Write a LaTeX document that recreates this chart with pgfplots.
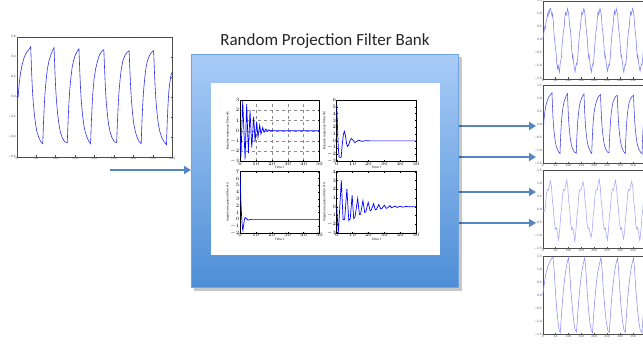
\documentclass[border=0pt]{standalone}
\usepackage{fontspec}
\setmainfont{Carlito}
\newfontfamily\mpl{DejaVu Sans}
\usepackage{pgfplots}
\pgfplotsset{compat=1.18}
\usetikzlibrary{arrows.meta}
\definecolor{arrowblue}{RGB}{84,134,196}
\definecolor{boxtop}{RGB}{168,204,247}
\definecolor{boxbot}{RGB}{78,142,214}
\definecolor{sigA}{RGB}{50,50,235}
\definecolor{out1}{RGB}{125,125,250}
\definecolor{out2}{RGB}{60,60,238}
\definecolor{out3}{RGB}{165,165,252}
\definecolor{out4}{RGB}{140,140,250}
\pgfplotsset{
  mpl/.style={scale only axis, axis line style={line width=0.3pt, black!70},
    tick align=inside, major tick length=1.4pt, tick style={line width=0.25pt, black!70},
    tick label style={font=\mpl\fontsize{3}{3}\selectfont, text=black!70, inner sep=0.6pt},
    clip=true},
  sub/.style={scale only axis, axis line style={line width=0.8pt, black},
    tick align=inside, major tick length=1.2pt, tick style={line width=0.3pt, black},
    tick label style={font=\mpl\fontsize{2.5}{2.5}\selectfont, inner sep=0.5pt},
    label style={font=\mpl\fontsize{2.9}{3}\selectfont, inner sep=0.6pt},
    xmin=0, xmax=50, xtick={0,10,...,50}, width=79.5pt, height=61.3pt},
}
\begin{document}
\begin{tikzpicture}
\useasboundingbox (0,0) rectangle (643pt,-343pt);
\fill[white] (0,0) rectangle (643pt,-343pt);
\clip (0,0) rectangle (643pt,-343pt);

% ---------- input signal ----------
\begin{axis}[mpl, at={(16.7pt,-36.7pt)}, anchor=north west, width=155.6pt, height=120pt,
  xmin=0, xmax=400, ymin=-0.6, ymax=0.6,
  xtick={0,50,...,400}, ytick={-0.6,-0.4,...,0.6},
  yticklabels={−0.6,−0.4,−0.2,0.0,0.2,0.4,0.6},
  xticklabels={0,50,100,150,200,250,300,350,400}]
\addplot[sigA, line width=0.6pt] coordinates {
(0,0)(4,0)(5,0.07)(7,0.15)(10,0.24)(14,0.32)(19,0.39)(25,0.44)(31,0.47)(36,0.50)
(38,0.28)(40,0.10)(42,-0.03)(45,-0.16)(48,-0.26)(52,-0.35)(57,-0.41)(62,-0.45)(67,-0.47)
(69,-0.25)(71,-0.08)(73,0.05)(76,0.18)(79,0.28)(83,0.36)(88,0.42)(92,0.46)(96,0.49)
(98,0.28)(100,0.10)(102,-0.03)(105,-0.16)(108,-0.26)(112,-0.35)(117,-0.41)(123,-0.45)(130,-0.46)
(132,-0.25)(134,-0.08)(136,0.05)(139,0.18)(142,0.28)(146,0.36)(151,0.42)(155,0.45)(160,0.48)
(162,0.27)(164,0.09)(166,-0.04)(169,-0.17)(172,-0.27)(176,-0.35)(181,-0.41)(186,-0.45)(190,-0.47)
(192,-0.25)(194,-0.08)(196,0.05)(199,0.18)(203,0.28)(208,0.36)(213,0.42)(218,0.45)(224,0.47)
(226,0.27)(228,0.09)(230,-0.04)(233,-0.17)(236,-0.27)(240,-0.35)(245,-0.41)(251,-0.45)(257,-0.46)
(259,-0.25)(261,-0.08)(263,0.05)(266,0.18)(269,0.28)(273,0.36)(278,0.41)(283,0.44)(289,0.46)
(291,0.26)(293,0.09)(295,-0.04)(298,-0.17)(301,-0.27)(305,-0.35)(310,-0.41)(315,-0.45)(320,-0.47)
(322,-0.25)(324,-0.08)(326,0.05)(329,0.18)(332,0.28)(336,0.36)(341,0.41)(346,0.44)(352,0.46)
(354,0.26)(356,0.09)(358,-0.04)(361,-0.17)(364,-0.27)(368,-0.35)(373,-0.41)(379,-0.45)(385,-0.48)
(387,-0.25)(389,-0.08)(391,0.05)(394,0.15)(397,0.22)(400,0.25)};
\end{axis}

% ---------- arrows ----------
\draw[arrowblue, line width=2pt, -{Triangle[length=7pt,width=8pt]}] (110pt,-170pt) -- (191pt,-170pt);
\foreach \yy in {126,157,192,223}
  \draw[arrowblue, line width=2pt, -{Triangle[length=7pt,width=8pt]}] (459pt,-\yy pt) -- (536pt,-\yy pt);

% ---------- filter bank box ----------
\fill[black, opacity=0.22] (193.5pt,-57pt) rectangle (461.5pt,-291pt);
\shade[top color=boxtop, bottom color=boxbot] (191pt,-54.3pt) rectangle (458.5pt,-287.7pt);
\draw[boxbot!80!white, line width=0.5pt] (191pt,-54.3pt) rectangle (458.5pt,-287.7pt);
\fill[white] (211pt,-82.7pt) rectangle (440pt,-255pt);
\node[font=\fontsize{17}{20}\selectfont, text=black!85] at (325pt,-41.5pt) {Random Projection Filter Bank};

% subplot 1
\begin{axis}[sub, at={(240pt,-100pt)}, anchor=north west,
  ymin=-3, ymax=3, ytick={-3,...,3}, grid=major, grid style={dashed, black!45, line width=0.25pt},
  xlabel={Time t}, ylabel={Impulse response filter \#1}]
\addplot[blue, line width=0.7pt] coordinates {
(0,0)(0.6,-2.55)(1.7,2.9)(3.2,-2.8)(4.2,2.6)(5.3,-2.2)(6.3,2.0)(7.4,-1.66)(8.6,1.37)(9.5,-1.07)
(10.5,0.88)(11.3,-0.65)(12.4,0.55)(13.2,-0.33)(14.3,0.29)(15.1,-0.16)(16.2,0.16)(17.2,-0.07)
(18.1,0.07)(19,-0.03)(20,0.02)(21,0)(50,0)};
\end{axis}
% subplot 2
\begin{axis}[sub, at={(336.7pt,-100pt)}, anchor=north west,
  ymin=-3, ymax=6, ytick={-3,...,6},
  xlabel={Time t}, ylabel={Impulse response filter \#2}]
\addplot[blue, line width=0.7pt] coordinates {
(0,5.2)(0.5,2)(1,-1)(1.5,-2.4)(2.8,-2.4)(3.5,-0.5)(4.2,0.9)(4.8,1.4)(5.5,0.8)(6.2,-0.4)(6.8,-0.8)
(7.5,-0.6)(8.5,0.1)(9.3,0.35)(10.3,0.1)(11.4,-0.25)(12.5,-0.1)(13.8,0.1)(15,0)(16,-0.08)(17.3,0)
(18.6,0.03)(21,0)(50,0)};
\end{axis}
% subplot 3
\begin{axis}[sub, at={(240pt,-171.7pt)}, anchor=north west,
  ymin=-2, ymax=7, ytick={-2,...,7},
  xlabel={Time t}, ylabel={Impulse response filter \#3}]
\addplot[blue, line width=0.7pt] coordinates {
(0,7)(0.5,3)(1,0.5)(1.5,-1.2)(1.8,-1.6)(2.3,-0.8)(2.8,0)(3.3,0.25)(4,0.15)(5,-0.1)(6,-0.05)(7,0)(50,0)};
\end{axis}
% subplot 4
\begin{axis}[sub, at={(336.7pt,-171.7pt)}, anchor=north west,
  ymin=-3, ymax=4, ytick={-3,...,4},
  xlabel={Time t}, ylabel={Impulse response filter \#4}]
\addplot[blue, line width=0.7pt] coordinates {
(0,0)(1,-3)(2.9,3.0)(4,-1.45)(5,-1.45)(6.4,2.05)(7.6,-1.55)(8.5,-1.4)(9.7,1.3)(10.7,-1.35)(11.5,-1.2)
(13.2,0.95)(14.3,-0.9)(15,-0.85)(16.5,0.7)(17.6,-0.65)(18.3,-0.6)(19.8,0.5)(21,-0.45)(21.7,-0.4)
(23.2,0.35)(24.3,-0.35)(25,-0.3)(26.5,0.25)(27.7,-0.25)(28.4,-0.2)(30,0.18)(31.1,-0.18)(31.8,-0.15)
(33.5,0.12)(34.5,-0.12)(36.8,0.08)(38,-0.08)(40,0.05)(41.5,-0.05)(43.5,0.03)(45,0)(50,0)};
\end{axis}

% ---------- output signals ----------
\pgfplotsset{outax/.style={mpl, anchor=north west, width=103.2pt, height=78pt,
  xmin=0, xmax=400, ymin=-1.5, ymax=1.5, xtick={0,50,...,350}, ytick={-1.5,-1,...,1.5},
  yticklabels={−1.5,−1.0,−0.5,0.0,0.5,1.0,1.5},
  xticklabels={0,50,100,150,200,250,300,350}}}
% output 1
\begin{axis}[outax, at={(542.7pt,-0.8pt)}]
\addplot[out1, line width=0.55pt] coordinates {
(0,0)(5,0.3)(8,0.5)(10,0.45)(13,0.7)(16,0.8)(19,1.0)(21,0.92)(24,1.12)(26,1.05)(28,1.2)
(31.0,1.21)(33,1.08)(36.3,0.91)(38,1.0)(41.5,0.68)(44,0.2)(46.8,-0.05)(49,-0.3)(52.0,-0.50)(54,-0.85)(57.3,-1.12)(60,-0.98)(62.5,-1.11)(65,-1.25)(67.8,-0.91)
(73.0,-0.65)(75,-0.2)(78.3,0.11)(80,0.3)(83.5,0.52)(86,0.9)(88.8,1.05)(91,0.95)(94.0,1.05)(96,1.2)(99.3,1.07)(101,0.95)(104.5,0.54)(107,0.4)(109.8,0.09)
(112,-0.3)(115.0,-0.69)(117,-0.6)(120.3,-0.94)(123,-1.1)(125.5,-1.23)(128,-1.05)(130.8,-0.90)(133,-0.95)(136.0,-0.63)(139,-0.2)(141.3,0.08)(144,0.35)(146.5,0.49)
(149,0.85)(151.8,1.06)(154,0.98)(157.0,1.08)(159,1.2)(162.3,1.11)(164,0.95)(167.5,0.52)(170,0.3)(172.8,0.05)(175,-0.35)(178.0,-0.68)(180,-0.6)(183.3,-0.93)
(186,-1.1)(188.5,-1.24)(191,-1.08)(193.8,-0.92)(196,-0.95)(199.0,-0.64)(202,-0.2)(204.3,0.10)(207,0.35)(209.5,0.51)(212,0.85)(214.8,1.09)(217,0.98)(220.0,1.10)
(222,1.22)(225.3,1.07)(228,0.9)(230.5,0.48)(233,0.3)(235.8,0.06)(238,-0.35)(241.0,-0.66)(243,-0.6)(246.3,-0.90)(249,-1.1)(251.5,-1.21)(254,-1.05)(256.8,-0.95)
(259,-0.98)(262.0,-0.67)(265,-0.2)(267.3,0.07)(270,0.35)(272.5,0.53)(275,0.85)(277.8,1.10)(280,0.98)(283.0,1.07)(285,1.2)(288.3,1.06)(291,0.9)(293.5,0.49)
(296,0.3)(298.8,0.08)(301,-0.35)(304.0,-0.65)(306,-0.6)(309.3,-0.91)(312,-1.1)(314.5,-1.25)(317,-1.05)(319.8,-0.94)(322,-0.97)(325.0,-0.63)(328,-0.2)(330.3,0.10)
(333,0.35)(335.5,0.50)(338,0.85)(340.8,1.07)(343,0.97)(346.0,1.09)(348,1.2)(351.3,1.09)(354,0.9)(356.5,0.51)(359,0.3)(361.8,0.05)(364,-0.35)(367.0,-0.68)
(369,-0.6)(372.3,-0.92)(375,-1.1)(377.5,-1.21)(380,-1.05)(382.8,-0.93)(385,-0.96)(388.0,-0.67)(391,-0.2)(393.3,0.06)(396,0.35)(398.5,0.53)};
\end{axis}
% output 2
\begin{axis}[outax, at={(542.7pt,-85pt)}]
\addplot[out2, line width=0.55pt] coordinates {
(0,0)(4,0)(5,0.17)(7,0.36)(10,0.58)(14,0.77)(19,0.94)(25,1.06)(31,1.13)(36,1.2)
(38,0.67)(40,0.24)(42,-0.07)(45,-0.38)(48,-0.62)(52,-0.84)(57,-0.98)(62,-1.08)(67,-1.13)
(69,-0.6)(71,-0.19)(73,0.12)(76,0.43)(79,0.67)(83,0.86)(88,1.0)(92,1.1)(96,1.17)
(98,0.67)(100,0.24)(102,-0.07)(105,-0.38)(108,-0.62)(112,-0.84)(117,-0.98)(123,-1.08)(130,-1.12)
(132,-0.6)(134,-0.19)(136,0.12)(139,0.43)(142,0.67)(146,0.86)(151,1.0)(155,1.08)(160,1.15)
(162,0.65)(164,0.22)(166,-0.09)(169,-0.4)(172,-0.64)(176,-0.84)(181,-0.98)(186,-1.08)(190,-1.13)
(192,-0.6)(194,-0.19)(196,0.12)(199,0.43)(203,0.67)(208,0.86)(213,1.0)(218,1.08)(224,1.13)
(226,0.65)(228,0.22)(230,-0.09)(233,-0.4)(236,-0.64)(240,-0.84)(245,-0.98)(251,-1.08)(257,-1.1)
(259,-0.6)(261,-0.19)(263,0.12)(266,0.43)(269,0.67)(273,0.86)(278,0.98)(283,1.06)(289,1.1)
(291,0.62)(293,0.22)(295,-0.09)(298,-0.4)(301,-0.64)(305,-0.84)(310,-0.98)(315,-1.08)(320,-1.13)
(322,-0.6)(324,-0.19)(326,0.12)(329,0.43)(332,0.67)(336,0.86)(341,0.98)(346,1.06)(352,1.1)
(354,0.62)(356,0.22)(358,-0.09)(361,-0.4)(364,-0.64)(368,-0.84)(373,-0.98)(379,-1.08)(385,-1.15)
(387,-0.6)(389,-0.19)(391,0.12)(394,0.36)(397,0.53)(400,0.6)};
\end{axis}
% output 3
\begin{axis}[outax, at={(542.7pt,-170pt)}]
\addplot[out3, line width=0.55pt] coordinates {
(0,-0.05)(5,-0.1)
(10,0)(14,0.55)(18,0.75)(22,0.72)(26,0.9)(30,1.08)(34,0.85)(38,0.3)(41.5,0)(45.5,-0.55)(49.5,-0.78)(53.5,-0.72)(57.5,-0.95)(61.5,-1.18)(65.5,-0.85)(69.5,-0.3)
(73,0)(77,0.55)(81,0.75)(85,0.72)(89,0.92)(93,1.12)(97,0.85)(101,0.3)(104.5,0)(108.5,-0.55)(112.5,-0.8)(116.5,-0.72)(120.5,-0.98)(124.5,-1.25)(128.5,-0.85)(132.5,-0.3)
(136,0)(140,0.55)(144,0.75)(148,0.72)(152,0.88)(156,1.05)(160,0.85)(164,0.3)(167.5,0)(171.5,-0.55)(175.5,-0.76)(179.5,-0.72)(183.5,-0.92)(187.5,-1.1)(191.5,-0.85)(195.5,-0.3)
(199,0)(203,0.55)(207,0.75)(211,0.72)(215,0.95)(219,1.15)(223,0.85)(227,0.3)(230.5,0)(234.5,-0.55)(238.5,-0.78)(242.5,-0.72)(246.5,-0.97)(250.5,-1.2)(254.5,-0.85)(258.5,-0.3)
(262,0)(266,0.55)(270,0.75)(274,0.72)(278,0.92)(282,1.1)(286,0.85)(290,0.3)(293.5,0)(297.5,-0.55)(301.5,-0.78)(305.5,-0.72)(309.5,-0.95)(313.5,-1.15)(317.5,-0.85)(321.5,-0.3)
(325,0)(329,0.55)(333,0.75)(337,0.72)(341,0.9)(345,1.06)(349,0.85)(353,0.3)(356.5,0)(360.5,-0.55)(364.5,-0.78)(368.5,-0.72)(372.5,-0.98)(376.5,-1.22)(380.5,-0.85)(384.5,-0.3)
(388,0)(392,0.55)(396,0.75)(400,0.72)};
\end{axis}
% output 4
\begin{axis}[outax, at={(542.7pt,-256pt)}]
\addplot[out4, line width=0.55pt] coordinates {
(0,0)(5,0.35)(12,0.8)(20,1.1)(28,1.3)(34,1.4)(40,1.45)
(44,1.0)(49,0.2)(54,-0.5)(59,-1.0)(64,-1.35)(68,-1.45)
(71,-1.0)(76,-0.3)(82,0.35)(88,0.85)(94,1.2)(100,1.45)
(104,1.0)(109,0.2)(115,-0.5)(120,-1.0)(126,-1.35)(131,-1.42)
(134,-1.0)(139,-0.3)(145,0.35)(151,0.85)(157,1.2)(163,1.43)
(167,1.0)(172,0.2)(177,-0.5)(182,-1.0)(188,-1.35)(193,-1.45)
(196,-1.0)(201,-0.3)(207,0.35)(213,0.85)(220,1.2)(226,1.44)
(230,1.0)(235,0.2)(241,-0.5)(246,-1.0)(252,-1.35)(258,-1.43)
(261,-1.0)(266,-0.3)(272,0.35)(278,0.85)(284,1.2)(290,1.42)
(294,1.0)(299,0.2)(304,-0.5)(309,-1.0)(315,-1.35)(320,-1.44)
(323,-1.0)(328,-0.3)(334,0.35)(340,0.85)(346,1.2)(352,1.43)
(356,1.0)(361,0.2)(367,-0.5)(372,-1.0)(378,-1.35)(385,-1.45)
(388,-1.0)(393,-0.3)(400,0.4)};
\end{axis}
\end{tikzpicture}
\end{document}
